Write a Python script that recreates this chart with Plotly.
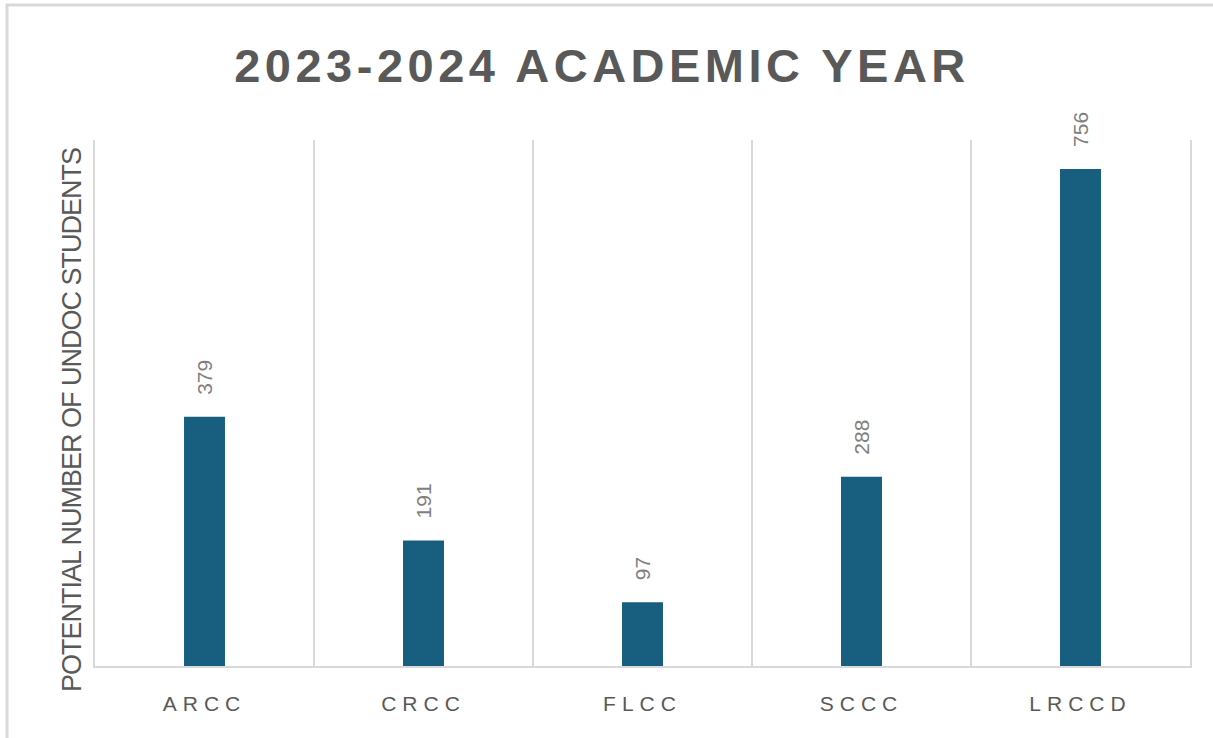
import plotly.graph_objects as go

categories = ["ARCC", "CRCC", "FLCC", "SCCC", "LRCCD"]
values = [379, 191, 97, 288, 756]
title_text = "2023-2024 ACADEMIC YEAR"
y_title = "POTENTIAL NUMBER OF UNDOC STUDENTS"

BAR = "#175E7F"
GRID = "#D9D9D9"
TXT = "#595959"
LBL = "#7F7F7F"

W, H = 1213, 738
L, R, T, B = 95, 23, 140, 72
pw, ph = W - L - R, H - T - B

def px2paper_x(px):
    return (px - L) / pw

def px2paper_y(py):
    return (H - B - py) / ph

fig = go.Figure()
fig.add_trace(go.Bar(
    x=categories, y=values, marker=dict(color=BAR, line=dict(width=0)),
    width=0.187, hoverinfo="skip",
))

for c, v in zip(categories, values):
    fig.add_annotation(
        x=c, y=v, xref="x", yref="y", text=str(v), textangle=-90,
        showarrow=False, xanchor="center", yanchor="bottom", yshift=20,
        font=dict(family="Liberation Sans, Arial", size=21, color=LBL),
    )

fig.add_annotation(
    x=px2paper_x(72), y=px2paper_y(420), xref="paper", yref="paper",
    text='<span style="letter-spacing:-1px">%s</span>' % y_title,
    textangle=-90, showarrow=False,
    xanchor="center", yanchor="middle",
    font=dict(family="Liberation Sans, Arial", size=27, color=TXT),
)

# outer chart border (extends beyond the cropped image on the right and bottom)
fig.add_shape(
    type="rect", xref="paper", yref="paper",
    x0=px2paper_x(7), x1=px2paper_x(1225), y0=px2paper_y(750), y1=px2paper_y(5),
    line=dict(color=GRID, width=3), fillcolor="rgba(0,0,0,0)", layer="below",
)

ticktext = ['<span style="letter-spacing:6px">%s</span>' % c for c in categories]

fig.update_layout(
    width=W, height=H,
    margin=dict(l=L, r=R, t=T, b=B, pad=0),
    paper_bgcolor="white", plot_bgcolor="white",
    showlegend=False,
    title=dict(
        text='<b><span style="letter-spacing:4.5px">%s</span></b>' % title_text,
        x=602 / W, xanchor="center", y=1 - 66 / H, yanchor="middle",
        xref="container", yref="container",
        font=dict(family="Liberation Sans, Arial", size=47, color=TXT),
    ),
    xaxis=dict(
        type="category", tickson="boundaries", showgrid=True,
        gridcolor=GRID, gridwidth=2, ticks="", tickvals=categories, ticktext=ticktext,
        tickfont=dict(family="Liberation Sans, Arial", size=21, color=TXT),
        showline=True, linecolor=GRID, linewidth=2, zeroline=False,
        range=[-0.5, len(categories) - 0.5], ticklabelstandoff=18,
    ),
    yaxis=dict(
        range=[0, 800], showgrid=False, showticklabels=False, ticks="",
        showline=True, linecolor=GRID, linewidth=2, mirror=True, zeroline=False,
    ),
)

fig.write_html("out.html")
